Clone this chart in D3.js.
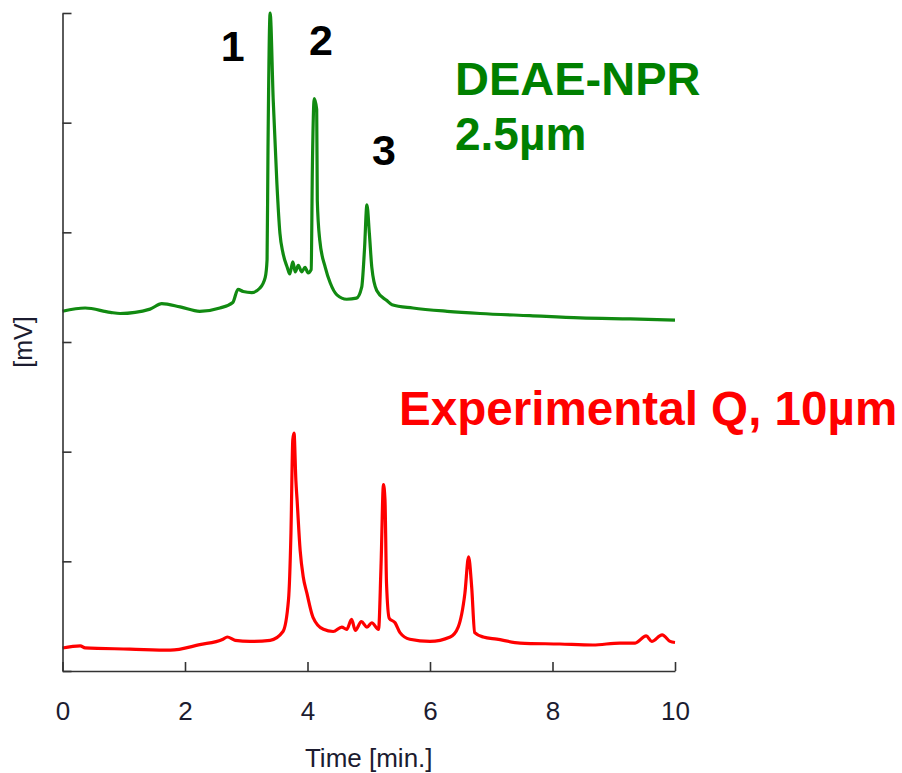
<!DOCTYPE html>
<html>
<head>
<meta charset="utf-8">
<script src="https://cdn.jsdelivr.net/npm/d3@7"></script>
<style>
  html, body { margin: 0; padding: 0; background: #ffffff; }
  svg { display: block; }
</style>
</head>
<body>
<svg id="chart" width="902" height="773"></svg>
<script>
// ---------------- data ----------------
const xTicks = [0, 2, 4, 6, 8, 10];
const yTicks = [0, 1, 2, 3, 4, 5, 6];
const xLabel = "Time [min.]";
const yLabel = "[mV]";

// DEAE-NPR 2.5µm (green trace)
const greenTime = [0, 0.37, 0.78, 0.94, 1.43, 1.62, 1.92, 2.24, 2.57, 2.78, 2.865, 2.95, 3.09, 3.22, 3.31, 3.34, 3.355, 3.39,
  3.44, 3.50, 3.55, 3.60, 3.67, 3.71, 3.76, 3.80, 3.85, 3.905, 3.96, 4.01, 4.06, 4.08, 4.11, 4.15, 4.16, 4.20, 4.29, 4.37,
  4.48, 4.64, 4.80, 4.885, 4.93, 4.97, 5.01, 5.05, 5.13, 5.29, 5.38, 5.72, 6.28, 6.82, 7.63, 8.45, 9.27, 10];
const greenSignal = [3.28, 3.31, 3.27, 3.26, 3.30, 3.35, 3.32, 3.28, 3.31, 3.36, 3.48, 3.46, 3.45, 3.49, 3.59, 3.75, 4.75, 6.0,
  5.21, 4.45, 3.99, 3.81, 3.68, 3.62, 3.73, 3.64, 3.70, 3.64, 3.68, 3.63, 3.66, 4.60, 5.22, 5.12, 4.29, 3.93, 3.68, 3.54,
  3.43, 3.39, 3.40, 3.50, 3.84, 4.25, 3.99, 3.68, 3.47, 3.38, 3.34, 3.31, 3.28, 3.26, 3.24, 3.22, 3.21, 3.20];

// Experimental Q, 10µm (red trace)
const redTime = [0, 0.29, 0.37, 1.10, 1.76, 2.24, 2.62, 2.69, 2.82, 3.06, 3.39, 3.60, 3.69, 3.73, 3.76, 3.78, 3.81, 3.83,
  3.88, 3.93, 3.99, 4.09, 4.26, 4.42, 4.56, 4.64, 4.72, 4.78, 4.88, 4.97, 5.05, 5.16, 5.20, 5.24, 5.265, 5.29, 5.335,
  5.43, 5.51, 5.67, 6.00, 6.33, 6.46, 6.57, 6.63, 6.68, 6.73, 6.87, 7.09, 7.47, 8.12, 8.66, 9.10, 9.35, 9.53, 9.62,
  9.79, 9.92, 10];
const redSignal = [0.21, 0.23, 0.21, 0.20, 0.19, 0.24, 0.29, 0.31, 0.28, 0.27, 0.28, 0.36, 0.65, 1.26, 2.11, 2.17, 1.74, 1.56,
  1.10, 0.86, 0.71, 0.49, 0.38, 0.36, 0.40, 0.38, 0.47, 0.37, 0.45, 0.40, 0.44, 0.38, 0.95, 1.70, 1.56, 0.80, 0.48,
  0.44, 0.35, 0.29, 0.27, 0.31, 0.40, 0.71, 1.04, 0.77, 0.35, 0.31, 0.29, 0.255, 0.246, 0.237, 0.255, 0.255, 0.32, 0.27,
  0.33, 0.27, 0.26];

// peak numbers (placed in data units)
const peakLabels = ["1", "2", "3"];
const peakLabelTime = [2.78, 4.22, 5.25];
const peakLabelValue = [5.56, 5.62, 4.61];

const seriesNames = ["DEAE-NPR", "2.5µm", "Experimental Q, 10µm"];

// ---------------- chart ----------------
const svg = d3.select("#chart");
const plotLeft = 62.5, plotRight = 675, plotTop = 13, plotBottom = 671;

const x = d3.scaleLinear().domain([0, 10]).range([plotLeft, plotRight]);
const y = d3.scaleLinear().domain([0, 6]).range([plotBottom, plotTop]);

const axisColor = "#333333";
const green = "#118a11";
const red = "#ff0000";
const fontFam = "Liberation Sans, Arial, sans-serif";

// traces
const line = d3.line()
  .x(d => x(d[0]))
  .y(d => y(d[1]))
  .curve(d3.curveMonotoneX);

svg.append("path")
  .datum(greenTime.map((t, i) => [t, greenSignal[i]]))
  .attr("d", line)
  .attr("fill", "none")
  .attr("stroke", green)
  .attr("stroke-width", 3.2)
  .attr("stroke-linejoin", "round");

svg.append("path")
  .datum(redTime.map((t, i) => [t, redSignal[i]]))
  .attr("d", line)
  .attr("fill", "none")
  .attr("stroke", red)
  .attr("stroke-width", 3.2)
  .attr("stroke-linejoin", "round");

// axes
const xAxis = d3.axisBottom(x)
  .tickValues(xTicks)
  .tickFormat(d3.format("d"))
  .tickSizeInner(-9)
  .tickSizeOuter(0)
  .tickPadding(31);

const gx = svg.append("g")
  .attr("transform", `translate(0,${plotBottom})`)
  .call(xAxis);
gx.select(".domain").attr("stroke", axisColor).attr("stroke-width", 1.6);
gx.selectAll(".tick line").attr("stroke", axisColor).attr("stroke-width", 1.6);
gx.selectAll(".tick text")
  .attr("fill", "#1c1c30")
  .style("font-family", fontFam)
  .style("font-size", "26px");

const yAxis = d3.axisLeft(y)
  .tickValues(yTicks)
  .tickFormat("")
  .tickSizeInner(-9)
  .tickSizeOuter(0);

const gy = svg.append("g")
  .attr("transform", `translate(${plotLeft},0)`)
  .call(yAxis);
gy.select(".domain").attr("stroke", axisColor).attr("stroke-width", 1.6);
gy.selectAll(".tick line").attr("stroke", axisColor).attr("stroke-width", 1.6);

// axis titles
svg.append("text")
  .attr("x", (plotLeft + plotRight) / 2)
  .attr("y", 767)
  .attr("text-anchor", "middle")
  .attr("fill", "#1c1c30")
  .style("font-family", fontFam)
  .style("font-size", "26px")
  .text(xLabel);

svg.append("text")
  .attr("transform", `translate(32,${y(3)}) rotate(-90)`)
  .attr("text-anchor", "middle")
  .attr("fill", "#1c1c30")
  .style("font-family", fontFam)
  .style("font-size", "25px")
  .text(yLabel);

// peak numbers
svg.selectAll("text.peak")
  .data(peakLabels)
  .join("text")
  .attr("class", "peak")
  .attr("x", (d, i) => x(peakLabelTime[i]))
  .attr("y", (d, i) => y(peakLabelValue[i]))
  .attr("text-anchor", "middle")
  .attr("fill", "#000000")
  .style("font-family", fontFam)
  .style("font-weight", "bold")
  .style("font-size", "43px")
  .text(d => d);

// series names
svg.append("text")
  .attr("x", 455).attr("y", 95)
  .attr("fill", "#008000")
  .style("font-family", fontFam).style("font-weight", "bold").style("font-size", "47px")
  .text(seriesNames[0]);
svg.append("text")
  .attr("x", 455).attr("y", 150)
  .attr("fill", "#008000")
  .style("font-family", fontFam).style("font-weight", "bold").style("font-size", "46px")
  .text(seriesNames[1]);
svg.append("text")
  .attr("x", 399).attr("y", 425)
  .attr("fill", "#ff0000")
  .style("font-family", fontFam).style("font-weight", "bold").style("font-size", "47.6px")
  .text(seriesNames[2]);
</script>
</body>
</html>
